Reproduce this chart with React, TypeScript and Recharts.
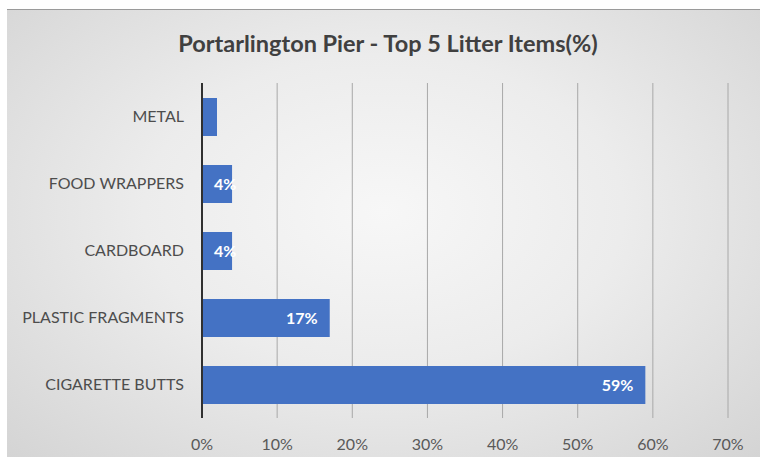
import React from "react";
import { BarChart, Bar, XAxis, YAxis, CartesianGrid, LabelList } from "recharts";

const categories = ["METAL", "FOOD WRAPPERS", "CARDBOARD", "PLASTIC FRAGMENTS", "CIGARETTE BUTTS"];
const values = [0.02, 0.04, 0.04, 0.17, 0.59];
const showLabel = [false, true, true, true, true];
const xTicks = [0, 0.1, 0.2, 0.3, 0.4, 0.5, 0.6, 0.7];
const title = "Portarlington Pier - Top 5 Litter Items(%)";

const data = categories.map((c, i) => ({ name: c, value: values[i], show: showLabel[i] }));

const FONT = "Lato, 'Open Sans', 'Liberation Sans', sans-serif";

const pct = (v: number) => `${Math.round(v * 100)}%`;

const renderLabel = (props: any) => {
  const { x, y, width, height, value, index } = props;
  if (!data[index].show) return null;
  const text = pct(value);
  const approxW = text.length * 9;
  const endX = x + width - 12;
  const useStart = endX - approxW < x + 12;
  return (
    <text
      x={useStart ? x + 12 : endX}
      y={y + height / 2}
      dy="0.35em"
      textAnchor={useStart ? "start" : "end"}
      fill="#ffffff"
      fontFamily={FONT}
      fontWeight={700}
      fontSize={16}
    >
      {text}
    </text>
  );
};

export default function App() {
  return (
    <div style={{ position: "fixed", left: 0, top: 0, width: 760, height: 457, background: "#ffffff", overflow: "hidden" }}>
      <div
        style={{
          position: "absolute",
          left: 7,
          top: 9,
          width: 753,
          height: 448,
          borderTop: "1px solid #9a9a9a",
          background: "radial-gradient(ellipse at 50% 45%, #f7f7f7 0%, #ececec 45%, #d4d4d4 100%)",
        }}
      />
      <div
        style={{
          position: "absolute",
          left: 0,
          top: 29,
          width: 776,
          textAlign: "center",
          fontFamily: FONT,
          fontWeight: 700,
          fontSize: 23.5,
          color: "#404040",
        }}
      >
        {title}
      </div>
      <div style={{ position: "absolute", left: 0, top: 0 }}>
        <BarChart
          width={760}
          height={457}
          data={data}
          layout="vertical"
          margin={{ top: 83, right: 32, bottom: 9, left: 0 }}
          barCategoryGap={0}
        >
          <CartesianGrid horizontal={false} vertical={true} stroke="#a8a8a8" strokeWidth={1} />
          <XAxis
            type="number"
            domain={[0, 0.7]}
            ticks={xTicks}
            tickFormatter={pct}
            axisLine={false}
            tickLine={false}
            tickMargin={15}
            height={30}
            interval={0}
            tick={{ fill: "#595959", fontSize: 16, fontFamily: FONT }}
          />
          <YAxis
            type="category"
            dataKey="name"
            width={202}
            axisLine={{ stroke: "#303030", strokeWidth: 2 }}
            tickLine={false}
            tickMargin={12}
            interval={0}
            tick={{ fill: "#4d4d4d", fontSize: 16, fontFamily: FONT }}
          />
          <Bar dataKey="value" fill="#4472C4" barSize={38} isAnimationActive={false}>
            <LabelList dataKey="value" content={renderLabel} />
          </Bar>
        </BarChart>
      </div>
    </div>
  );
}
